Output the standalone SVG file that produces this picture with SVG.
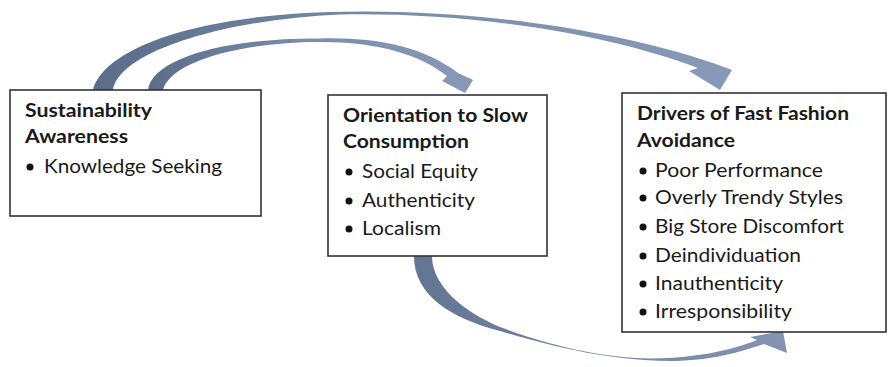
<svg xmlns="http://www.w3.org/2000/svg" width="888" height="367" viewBox="0 0 888 367">
<style>
.box{fill:#fff;stroke:#333;stroke-width:1.6}
.t{font-family:Lato,"Liberation Sans",sans-serif;font-size:19.5px;fill:#1a1a1a}
.b{font-weight:bold}
.dot{fill:#111}
</style>
<defs>
<linearGradient id="g1" x1="0" y1="0" x2="1" y2="0">
<stop offset="0" stop-color="#5a6e8c"/>
<stop offset="0.5" stop-color="#7a8eac"/>
<stop offset="1" stop-color="#8799b6"/>
</linearGradient>
<linearGradient id="g2" x1="0" y1="0" x2="1" y2="0">
<stop offset="0" stop-color="#627694"/>
<stop offset="1" stop-color="#8294b2"/>
</linearGradient>
</defs>
<g id="connectors">
<path id="a-outer" fill="url(#g1)" d="M93,90 C103,50 190,16 330,12 C450,8 600,25 713,63 L732,70 L720,90 L689,71 L698,68 C600,31 460,12 340,14.5 C230,19 120,50 113,90 Z"/>
<path id="a-inner" fill="url(#g1)" d="M148,90 C152,60 220,38 320,38.5 C380,37 425,48 458,73 L473,80 L465,93 L442,81 L447,76 C420,55 380,42 320,42 C240,42 170,62 163,90 Z"/>
<path id="a-bottom" fill="url(#g2)" d="M414,256 C414,295 450,318 500,331 C550,346 610,361 670,361 C710,361 740,352 764,344 L787,353 L783,331 L750,337 L757,340 C735,349 700,358 650,358.5 C600,358 545,344 500,327 C462,311 432,285 432,256 Z"/>
</g>
<g id="node-awareness">
<rect class="box" x="10" y="90" width="251" height="126"/>
<text class="t b" x="25" y="117" textLength="127" lengthAdjust="spacingAndGlyphs">Sustainability</text>
<text class="t b" x="25" y="143" textLength="103" lengthAdjust="spacingAndGlyphs">Awareness</text>
<circle class="dot" cx="30" cy="167" r="3.5"/>
<text class="t" x="44" y="173" textLength="178" lengthAdjust="spacingAndGlyphs">Knowledge Seeking</text>
</g>
<g id="node-slow">
<rect class="box" x="328" y="95" width="219" height="161"/>
<text class="t b" x="343" y="122" textLength="185" lengthAdjust="spacingAndGlyphs">Orientation to Slow</text>
<text class="t b" x="343" y="148" textLength="126" lengthAdjust="spacingAndGlyphs">Consumption</text>
<circle class="dot" cx="349" cy="172" r="3.5"/>
<text class="t" x="362" y="178" textLength="116" lengthAdjust="spacingAndGlyphs">Social Equity</text>
<circle class="dot" cx="349" cy="201" r="3.5"/>
<text class="t" x="362" y="207" textLength="113" lengthAdjust="spacingAndGlyphs">Authenticity</text>
<circle class="dot" cx="349" cy="229" r="3.5"/>
<text class="t" x="362" y="235" textLength="79" lengthAdjust="spacingAndGlyphs">Localism</text>
</g>
<g id="node-drivers">
<rect class="box" x="622" y="93" width="264" height="239"/>
<text class="t b" x="637" y="120" textLength="212" lengthAdjust="spacingAndGlyphs">Drivers of Fast Fashion</text>
<text class="t b" x="637" y="147" textLength="98" lengthAdjust="spacingAndGlyphs">Avoidance</text>
<circle class="dot" cx="643" cy="171" r="3.5"/>
<text class="t" x="655" y="177" textLength="168" lengthAdjust="spacingAndGlyphs">Poor Performance</text>
<circle class="dot" cx="643" cy="198" r="3.5"/>
<text class="t" x="655" y="204" textLength="188" lengthAdjust="spacingAndGlyphs">Overly Trendy Styles</text>
<circle class="dot" cx="643" cy="227" r="3.5"/>
<text class="t" x="655" y="233" textLength="189" lengthAdjust="spacingAndGlyphs">Big Store Discomfort</text>
<circle class="dot" cx="643" cy="256" r="3.5"/>
<text class="t" x="655" y="262" textLength="146" lengthAdjust="spacingAndGlyphs">Deindividuation</text>
<circle class="dot" cx="643" cy="284" r="3.5"/>
<text class="t" x="655" y="290" textLength="128" lengthAdjust="spacingAndGlyphs">Inauthenticity</text>
<circle class="dot" cx="643" cy="312" r="3.5"/>
<text class="t" x="655" y="318" textLength="137" lengthAdjust="spacingAndGlyphs">Irresponsibility</text>
</g>
</svg>
